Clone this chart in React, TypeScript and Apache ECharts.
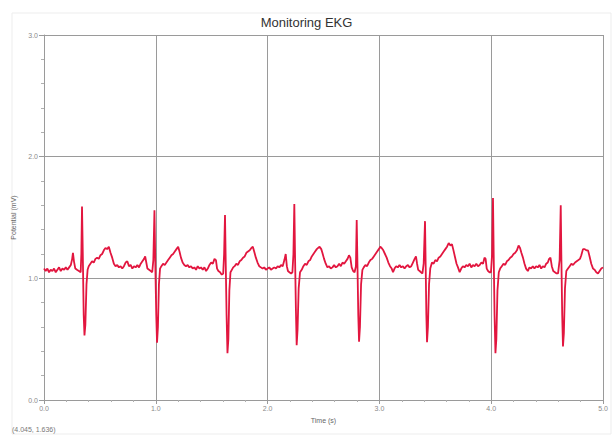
import React, { useEffect, useRef } from "react";
import * as echarts from "echarts";

const chartTitle = "Monitoring EKG";
const xAxisName = "Time (s)";
const yAxisName = "Potential (mV)";
const cursorReadout = "(4.045, 1.636)";

type Pt = [number, number];

const beat1: Pt[] = [[0.000,1.08],[0.015,1.06],[0.030,1.08],[0.045,1.05],[0.060,1.07],[0.075,1.06],[0.090,1.08],[0.105,1.05],[0.120,1.07],[0.135,1.09],[0.150,1.06],[0.165,1.08],[0.180,1.07],[0.195,1.09],[0.210,1.07],[0.225,1.09],[0.240,1.11],[0.252,1.16],[0.259,1.21],[0.268,1.14],[0.280,1.08],[0.295,1.07],[0.312,1.06],[0.328,1.05],[0.334,1.20],[0.340,1.59],[0.347,1.20],[0.355,0.70],[0.362,0.53],[0.370,0.62],[0.380,0.95],[0.390,1.07],[0.400,1.10],[0.415,1.12],[0.430,1.14],[0.445,1.13],[0.460,1.16],[0.475,1.17],[0.490,1.16],[0.505,1.19],[0.520,1.20],[0.535,1.23],[0.550,1.25],[0.565,1.24],[0.580,1.26],[0.595,1.21],[0.610,1.17],[0.625,1.12],[0.640,1.10],[0.655,1.11],[0.670,1.09],[0.685,1.10],[0.700,1.08],[0.715,1.10],[0.730,1.13],[0.745,1.14],[0.760,1.10],[0.775,1.11],[0.790,1.08],[0.805,1.10],[0.820,1.09],[0.835,1.11],[0.850,1.09],[0.865,1.12],[0.880,1.14],[0.895,1.16],[0.905,1.18],[0.915,1.13],[0.925,1.08],[0.940,1.07],[0.955,1.06],[0.968,1.05],[0.978,1.15]];

const beat2: Pt[] = [[0.988,1.56],[0.996,1.10],[1.004,0.70],[1.011,0.47],[1.019,0.60],[1.028,0.95],[1.038,1.08],[1.050,1.10],[1.065,1.12],[1.080,1.11],[1.095,1.13],[1.110,1.15],[1.125,1.17],[1.140,1.19],[1.155,1.20],[1.170,1.22],[1.185,1.24],[1.200,1.26],[1.212,1.22],[1.225,1.17],[1.240,1.13],[1.255,1.11],[1.270,1.10],[1.285,1.11],[1.300,1.09],[1.315,1.10],[1.330,1.08],[1.345,1.09],[1.360,1.07],[1.375,1.10],[1.390,1.08],[1.405,1.09],[1.420,1.07],[1.435,1.09],[1.450,1.06],[1.465,1.08],[1.480,1.11],[1.495,1.13],[1.510,1.12],[1.525,1.16],[1.538,1.15],[1.548,1.08],[1.560,1.06],[1.575,1.05],[1.590,1.03],[1.603,1.04],[1.611,1.20]];

const beat3: Pt[] = [[1.619,1.52],[1.626,1.10],[1.633,0.70],[1.641,0.385],[1.649,0.50],[1.658,0.90],[1.668,1.05],[1.680,1.07],[1.692,1.09],[1.705,1.10],[1.720,1.12],[1.735,1.11],[1.750,1.14],[1.765,1.15],[1.780,1.17],[1.795,1.18],[1.810,1.21],[1.825,1.22],[1.840,1.23],[1.855,1.25],[1.868,1.26],[1.880,1.22],[1.895,1.17],[1.910,1.13],[1.925,1.10],[1.940,1.09],[1.955,1.08],[1.970,1.09],[1.985,1.07],[2.000,1.08],[2.015,1.09],[2.030,1.07],[2.045,1.08],[2.060,1.09],[2.075,1.08],[2.090,1.10],[2.105,1.09],[2.120,1.11],[2.135,1.10],[2.150,1.15],[2.162,1.20],[2.172,1.10],[2.182,1.06],[2.195,1.05],[2.210,1.04],[2.222,1.05],[2.231,1.20]];

const beat4: Pt[] = [[2.239,1.61],[2.246,1.15],[2.253,0.75],[2.260,0.45],[2.268,0.58],[2.278,0.92],[2.290,1.05],[2.305,1.07],[2.320,1.10],[2.335,1.12],[2.350,1.11],[2.365,1.14],[2.380,1.15],[2.395,1.18],[2.410,1.20],[2.425,1.22],[2.440,1.24],[2.452,1.25],[2.465,1.26],[2.480,1.24],[2.490,1.21],[2.505,1.16],[2.520,1.12],[2.535,1.09],[2.550,1.10],[2.565,1.08],[2.580,1.09],[2.595,1.11],[2.610,1.09],[2.625,1.10],[2.640,1.12],[2.655,1.10],[2.670,1.13],[2.685,1.12],[2.700,1.14],[2.715,1.16],[2.728,1.19],[2.740,1.17],[2.752,1.09],[2.765,1.06],[2.778,1.05],[2.790,1.10]];

const beat5: Pt[] = [[2.797,1.48],[2.804,1.10],[2.811,0.70],[2.818,0.48],[2.826,0.60],[2.836,0.95],[2.848,1.07],[2.860,1.09],[2.875,1.11],[2.890,1.10],[2.905,1.13],[2.920,1.15],[2.935,1.16],[2.950,1.18],[2.965,1.20],[2.980,1.22],[2.995,1.24],[3.008,1.26],[3.020,1.25],[3.035,1.23],[3.050,1.20],[3.065,1.17],[3.080,1.13],[3.095,1.10],[3.110,1.08],[3.122,1.05],[3.135,1.08],[3.150,1.10],[3.165,1.09],[3.180,1.11],[3.195,1.09],[3.210,1.10],[3.225,1.08],[3.240,1.10],[3.255,1.11],[3.270,1.09],[3.285,1.10],[3.300,1.13],[3.315,1.16],[3.327,1.18],[3.337,1.12],[3.347,1.07],[3.360,1.06],[3.372,1.05],[3.385,1.04],[3.396,1.12]];

const beat6: Pt[] = [[3.408,1.47],[3.414,1.10],[3.420,0.70],[3.426,0.475],[3.434,0.60],[3.444,0.95],[3.455,1.08],[3.470,1.13],[3.485,1.12],[3.500,1.15],[3.515,1.14],[3.530,1.17],[3.545,1.18],[3.560,1.20],[3.575,1.22],[3.590,1.24],[3.605,1.26],[3.620,1.29],[3.635,1.27],[3.649,1.28],[3.660,1.24],[3.675,1.18],[3.690,1.12],[3.703,1.09],[3.718,1.05],[3.732,1.08],[3.747,1.10],[3.762,1.09],[3.777,1.11],[3.792,1.10],[3.807,1.12],[3.822,1.09],[3.837,1.11],[3.852,1.10],[3.867,1.12],[3.882,1.10],[3.897,1.11],[3.912,1.13],[3.927,1.12],[3.940,1.17],[3.950,1.16],[3.960,1.08],[3.972,1.06],[3.985,1.05],[3.998,1.05],[4.008,1.20]];

const beat7: Pt[] = [[4.016,1.66],[4.023,1.15],[4.030,0.70],[4.038,0.385],[4.046,0.50],[4.056,0.90],[4.068,1.05],[4.080,1.08],[4.095,1.10],[4.110,1.12],[4.125,1.11],[4.140,1.14],[4.155,1.15],[4.170,1.17],[4.185,1.18],[4.200,1.20],[4.215,1.21],[4.230,1.23],[4.245,1.27],[4.258,1.25],[4.270,1.21],[4.284,1.17],[4.298,1.12],[4.312,1.08],[4.328,1.06],[4.342,1.09],[4.357,1.08],[4.372,1.10],[4.387,1.08],[4.402,1.10],[4.417,1.09],[4.432,1.11],[4.447,1.08],[4.462,1.10],[4.477,1.09],[4.492,1.12],[4.506,1.13],[4.518,1.16],[4.530,1.17],[4.542,1.10],[4.555,1.06],[4.570,1.05],[4.585,1.04],[4.598,1.04],[4.612,1.15]];

const beat8: Pt[] = [[4.622,1.60],[4.628,1.15],[4.635,0.70],[4.642,0.44],[4.650,0.55],[4.660,0.92],[4.672,1.06],[4.687,1.08],[4.702,1.10],[4.717,1.12],[4.732,1.11],[4.750,1.13],[4.765,1.14],[4.780,1.15],[4.794,1.16],[4.806,1.19],[4.821,1.24],[4.836,1.24],[4.851,1.23],[4.866,1.23],[4.880,1.18],[4.895,1.12],[4.911,1.08],[4.925,1.07],[4.940,1.05],[4.955,1.04],[4.970,1.06],[4.985,1.08],[5.000,1.09]];

const xTicks = [0, 1, 2, 3, 4, 5];
const yTicks = [0, 1, 2, 3];

export default function App() {
  const ref = useRef<HTMLDivElement>(null);
  useEffect(() => {
    if (!ref.current) return;
    const chart = echarts.init(ref.current, null, { renderer: "svg" });
    const data = [...beat1, ...beat2, ...beat3, ...beat4, ...beat5, ...beat6, ...beat7, ...beat8];
    const gray = "#9a9a9a";
    const labelColor = "#8a8a8a";
    const font = "Liberation Sans, Arial, sans-serif";
    chart.setOption({
      animation: false,
      backgroundColor: "#ffffff",
      title: {
        text: chartTitle,
        left: "center",
        top: 11,
        textStyle: { fontFamily: font, fontSize: 13, fontWeight: "normal", color: "#333333" },
      },
      grid: { left: 44, right: 10, top: 35, bottom: 36, containLabel: false },
      xAxis: {
        type: "value",
        min: xTicks[0],
        max: xTicks[xTicks.length - 1],
        interval: 1,
        name: xAxisName,
        nameLocation: "middle",
        nameGap: 15,
        nameTextStyle: { fontSize: 7, color: "#666666", fontFamily: font },
        axisLine: { show: true, lineStyle: { color: gray, width: 1 } },
        axisTick: { show: true, length: 4, lineStyle: { color: gray } },
        minorTick: { show: true, splitNumber: 5, length: 2, lineStyle: { color: "#b0b0b0" } },
        axisLabel: { fontSize: 7, color: labelColor, margin: 5, formatter: (v: number) => v.toFixed(1), fontFamily: font },
        splitLine: { show: true, lineStyle: { color: gray, width: 1 } },
      },
      yAxis: {
        type: "value",
        min: yTicks[0],
        max: yTicks[yTicks.length - 1],
        interval: 1,
        name: yAxisName,
        nameLocation: "middle",
        nameGap: 22,
        nameRotate: 90,
        nameTextStyle: { fontSize: 7, color: "#666666", fontFamily: font },
        axisLine: { show: true, lineStyle: { color: gray, width: 1 } },
        axisTick: { show: true, length: 5, lineStyle: { color: gray } },
        minorTick: { show: true, splitNumber: 5, length: 3, lineStyle: { color: "#b0b0b0" } },
        axisLabel: { fontSize: 7, color: labelColor, margin: 6, formatter: (v: number) => v.toFixed(1), fontFamily: font },
        splitLine: { show: true, lineStyle: { color: gray, width: 1 } },
      },
      graphic: [
        {
          type: "rect",
          shape: { x: 12, y: 13, width: 599, height: 421 },
          style: { fill: "none", stroke: "#ededed", lineWidth: 1 },
          z: -1,
        },
        {
          type: "text",
          left: 12,
          top: 426,
          style: { text: cursorReadout, fontSize: 7, fill: "#777777", fontFamily: font },
        },
      ],
      series: [
        {
          type: "line",
          data,
          showSymbol: false,
          symbol: "none",
          smooth: false,
          lineStyle: { color: "#e2163f", width: 1.8 },
          z: 5,
        },
      ],
    });
    return () => chart.dispose();
  }, []);
  return <div ref={ref} style={{ width: 613, height: 436, position: "absolute", left: 0, top: 0 }} />;
}
